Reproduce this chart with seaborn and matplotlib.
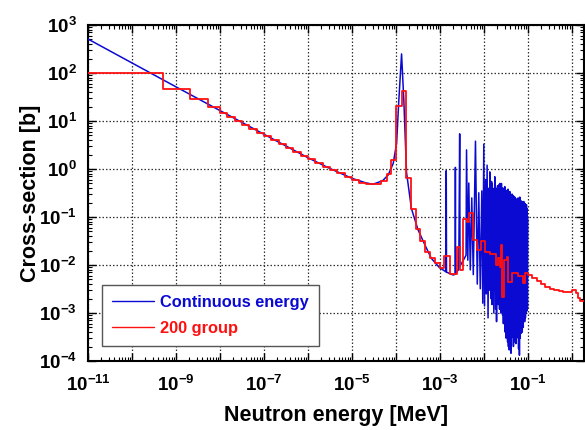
import numpy as np
import pandas as pd
import seaborn as sns
import matplotlib.pyplot as plt
from matplotlib.ticker import FixedLocator, FuncFormatter, LogLocator, NullFormatter

# ---------------- data ----------------
# Continuous-energy (pointwise) cross-section: energy [MeV], sigma [b]
E_cont = [
    1.0e-11, 1.0e-10, 1.0e-9, 1.0e-8, 1.0e-7, 1.0e-6, 3.0e-6, 1.0e-5, 2.0e-5,
    3.0e-5, 5.0e-5, 6.7e-5, 8.7e-5, 1.04e-4, 1.17e-4, 1.35e-4, 1.52e-4,
    1.75e-4, 2.26e-4, 3.2e-4, 4.6e-4, 6.4e-4, 9.6e-4, 1.38e-3, 1.40e-3,
    1.42e-3, 2.0e-3, 2.24e-3, 2.26e-3, 2.28e-3, 2.7e-3, 2.83e-3, 2.88e-3,
    3.5e-3, 3.95e-3, 4.05e-3, 4.33e-3, 4.56e-3, 4.93e-3, 5.33e-3, 5.77e-3,
    6.47e-3, 7.11e-3, 7.69e-3, 8.32e-3, 9.01e-3, 9.48e-3,
    1.00e-2, 1.04e-2, 1.10e-2, 1.14e-2, 1.19e-2, 1.25e-2, 1.31e-2, 1.34e-2,
    1.37e-2, 1.44e-2, 1.50e-2, 1.53e-2, 1.56e-2, 1.69e-2, 1.73e-2, 1.75e-2,
    1.78e-2, 1.86e-2, 1.90e-2, 1.95e-2, 2.00e-2, 2.03e-2, 2.06e-2, 2.12e-2,
    2.16e-2, 2.19e-2, 2.25e-2, 2.28e-2, 2.31e-2, 2.37e-2, 2.40e-2, 2.43e-2,
    2.48e-2, 2.50e-2, 2.52e-2, 2.57e-2, 2.64e-2, 2.68e-2, 2.73e-2, 2.79e-2,
    2.85e-2, 2.92e-2, 3.00e-2, 3.06e-2, 3.13e-2, 3.20e-2, 3.27e-2, 3.34e-2,
    3.40e-2, 3.48e-2, 3.56e-2, 3.63e-2, 3.70e-2, 3.80e-2, 3.90e-2, 3.98e-2,
    4.06e-2, 4.15e-2, 4.24e-2, 4.32e-2, 4.41e-2, 4.52e-2, 4.64e-2, 4.72e-2,
    4.81e-2, 4.94e-2, 5.07e-2, 5.16e-2, 5.25e-2, 5.36e-2, 5.48e-2, 5.60e-2,
    5.74e-2, 5.88e-2, 6.03e-2, 6.18e-2, 6.34e-2, 6.46e-2, 6.58e-2, 6.75e-2,
    6.93e-2, 7.12e-2, 7.31e-2, 7.50e-2, 7.69e-2, 7.90e-2, 8.11e-2, 8.22e-2,
    8.32e-2, 8.50e-2, 8.69e-2, 8.85e-2, 9.02e-2, 9.18e-2, 9.33e-2, 9.50e-2,
    9.64e-2, 9.82e-2, 1.00e-1,
]
xs_cont = [
    510, 162, 51.5, 16.5, 5.3, 1.72, 1.05, 0.64, 0.52,
    0.48, 0.57, 0.75, 1.3, 3.4, 27, 250, 27,
    0.85, 0.15, 0.054, 0.026, 0.0138, 0.0090, 0.0072, 0.92,
    0.0071, 0.0062, 0.0064, 1.08, 0.0065, 0.0082, 5.4, 0.0095,
    0.013, 0.016, 2.5, 0.0126, 0.51, 0.0079, 0.25, 0.0063,
    3.8, 0.0040, 0.32, 0.0032, 0.35, 0.0016,
    3.3, 0.0014, 0.60, 0.0025, 1.2, 0.00079, 0.40, 0.0030,
    0.87, 0.0020, 0.55, 0.0015, 0.50, 0.0010, 0.40, 0.0030,
    0.69, 0.0012, 0.35, 0.00066, 0.40, 0.0025, 0.45, 0.0015,
    0.42, 0.0020, 0.48, 0.0012, 0.50, 0.0018, 0.40, 0.0010,
    0.45, 0.0015, 0.50, 0.0022, 0.40, 0.0009, 0.35, 0.0006,
    0.40, 0.0008, 0.43, 0.0004, 0.33, 0.0003, 0.28, 0.0005,
    0.36, 0.00025, 0.38, 0.0002, 0.30, 0.00017, 0.34, 0.0003,
    0.30, 0.000145, 0.25, 0.0004, 0.30, 0.00032, 0.28, 0.0002,
    0.27, 0.00025, 0.26, 0.0005, 0.24, 0.00023, 0.22, 0.0003,
    0.24, 0.0004, 0.25, 0.00018, 0.22, 0.000132, 0.26, 0.0003,
    0.22, 0.00038, 0.20, 0.0004, 0.21, 0.0005, 0.21, 0.0007,
    0.19, 0.00066, 0.19, 0.0008, 0.18, 0.0010, 0.18, 0.0011,
    0.15, 0.00126, 0.10,
]

# 200-group cross-section: group boundaries [MeV] and group values [b]
E_group = [
    1.0e-11, 5.07e-10, 2.1e-9, 5.3e-9, 1.0e-8,
    1.47e-8, 2.15e-8, 3.16e-8, 4.64e-8, 6.81e-8, 1.0e-7,
    1.47e-7, 2.15e-7, 3.16e-7, 4.64e-7, 6.81e-7, 1.0e-6,
    1.47e-6, 2.15e-6, 3.16e-6, 4.64e-6, 6.81e-6, 1.0e-5,
    1.47e-5, 2.15e-5, 3.16e-5, 4.68e-5, 6.46e-5, 7.94e-5, 1.035e-4,
    1.35e-4, 1.69e-4, 2.19e-4, 2.85e-4, 3.51e-4, 4.56e-4, 5.93e-4,
    7.69e-4, 1.0e-3,
    1.23e-3, 1.69e-3, 2.40e-3, 2.85e-3, 3.31e-3, 4.22e-3, 4.68e-3,
    5.62e-3, 7.08e-3, 8.71e-3, 1.07e-2, 1.35e-2, 1.91e-2, 2.09e-2,
    2.29e-2, 2.51e-2, 2.66e-2, 2.82e-2, 3.31e-2, 3.61e-2, 4.30e-2,
    4.90e-2, 6.03e-2, 7.24e-2, 7.94e-2, 8.71e-2, 1.0e-1,
    1.26e-1, 1.58e-1, 2.0e-1, 2.51e-1, 3.16e-1, 3.98e-1, 5.01e-1,
    6.31e-1, 7.94e-1, 1.0, 1.26, 1.41, 1.58, 1.9,
]
xs_group = [
    100, 46, 29, 19.5,
    14.8, 12.2, 10.1, 8.37, 6.93, 5.74,
    4.76, 3.95, 3.28, 2.73, 2.28, 1.90,
    1.59, 1.34, 1.12, 0.95, 0.81, 0.69,
    0.58, 0.52, 0.49, 0.49, 0.56, 0.79, 1.55,
    21, 43, 0.65, 0.15, 0.057, 0.031, 0.019,
    0.0138, 0.011,
    0.0088, 0.0155, 0.0065, 0.024, 0.0080, 0.093, 0.079,
    0.12, 0.033, 0.021, 0.031, 0.019, 0.017, 0.010,
    0.0138, 0.0093, 0.026, 0.0022, 0.0126, 0.0148, 0.0045,
    0.0069, 0.0068, 0.0060, 0.0058, 0.0042, 0.0068,
    0.0062, 0.0054, 0.0047, 0.0040, 0.0035, 0.0032, 0.0030,
    0.0029, 0.0028, 0.0028, 0.0030, 0.0026, 0.0021, 0.0018,
]

x_label_exps = [-11, -9, -7, -5, -3, -1]
y_label_exps = [-4, -3, -2, -1, 0, 1, 2, 3]

BLUE = "#0a0ad2"
RED = "#ff1010"

# ---------------- style ----------------
sns.set_theme(style="ticks")
plt.rcParams["font.family"] = ["Liberation Sans", "DejaVu Sans"]
plt.rcParams["text.color"] = "black"
plt.rcParams["axes.labelcolor"] = "black"
plt.rcParams["mathtext.fontset"] = "custom"
plt.rcParams["mathtext.rm"] = "Liberation Sans:bold"
plt.rcParams["mathtext.bf"] = "Liberation Sans:bold"
plt.rcParams["mathtext.it"] = "Liberation Sans:bold"

fig = plt.figure(figsize=(5.85, 4.3), dpi=100)
ax = fig.add_axes([88 / 585, 1 - 361 / 430, (584 - 88) / 585, (361 - 25) / 430])

cont = pd.DataFrame({"E": E_cont, "xs": xs_cont})
grp = pd.DataFrame({"E": E_group, "xs": xs_group + [xs_group[-1]]})

sns.lineplot(data=cont, x="E", y="xs", ax=ax, color=BLUE, linewidth=1.1,
             estimator=None, sort=False, label="Continuous energy", zorder=3)
sns.lineplot(data=grp, x="E", y="xs", ax=ax, color=RED, linewidth=1.3,
             estimator=None, sort=False, drawstyle="steps-post",
             label="200 group", zorder=4)

ax.set_xscale("log")
ax.set_yscale("log")
ax.set_xlim(1e-11, 1.9)
ax.set_ylim(1e-4, 1e3)

# ticks
ax.xaxis.set_major_locator(FixedLocator([10.0 ** k for k in range(-11, 1)]))
ax.xaxis.set_minor_locator(LogLocator(base=10, subs=np.arange(2, 10), numticks=40))
ax.xaxis.set_major_formatter(FuncFormatter(
    lambda v, p: (r"$\mathbf{10^{%d}}$" % round(np.log10(v)))
    if round(np.log10(v)) in x_label_exps else ""))
ax.xaxis.set_minor_formatter(NullFormatter())
ax.yaxis.set_major_locator(FixedLocator([10.0 ** k for k in y_label_exps]))
ax.yaxis.set_minor_locator(LogLocator(base=10, subs=np.arange(2, 10), numticks=40))
ax.yaxis.set_major_formatter(FuncFormatter(
    lambda v, p: r"$\mathbf{10^{%d}}$" % round(np.log10(v))))
ax.yaxis.set_minor_formatter(NullFormatter())

ax.tick_params(which="both", direction="in", top=True, right=True,
               colors="black", labelsize=13.5)
ax.tick_params(axis="x", which="major", length=6, width=1.0, pad=10)
ax.tick_params(axis="y", which="major", length=6, width=1.0, pad=8)
ax.tick_params(which="minor", length=3, width=0.8)

ax.grid(True, which="major", color="#333333", linestyle=(0, (1.2, 1.6)),
        linewidth=0.9)
for s in ax.spines.values():
    s.set_linewidth(1.5)
    s.set_color("black")

ax.set_xlabel("Neutron energy [MeV]", fontsize=15.5, fontweight="bold")
ax.set_ylabel("Cross-section [b]", fontsize=15.5, fontweight="bold")
ax.xaxis.set_label_coords(0.5, -0.132)
ax.yaxis.set_label_coords(-0.095, 0.5)

leg = ax.legend(loc="lower left", bbox_to_anchor=(0.028, 0.045),
                fontsize=11.8, frameon=True, fancybox=False, framealpha=1,
                edgecolor="#555555", handlelength=2.6, handletextpad=0.35,
                borderpad=0.6, labelspacing=0.7, borderaxespad=0)
leg.get_frame().set_linewidth(1.0)
for txt, col in zip(leg.get_texts(), [BLUE, RED]):
    txt.set_color(col)
    txt.set_fontweight("bold")
for h in leg.get_lines():
    h.set_linewidth(1.0)

fig.savefig("out.png", dpi=100)
